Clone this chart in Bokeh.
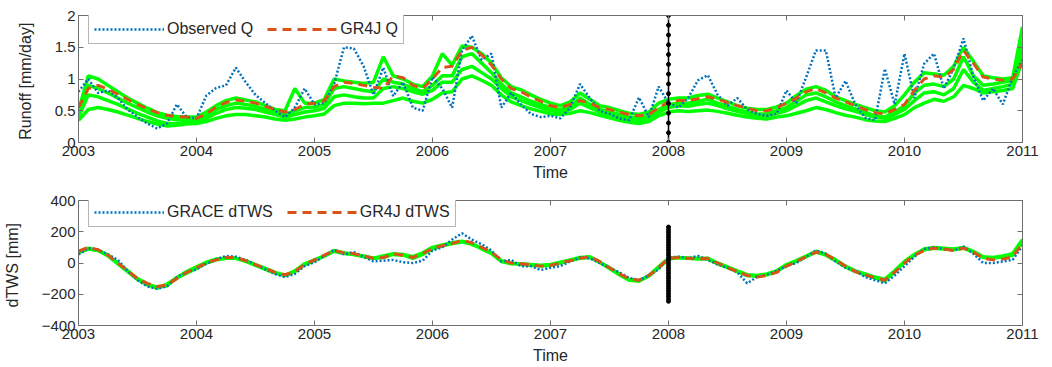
import numpy as np
from bokeh.plotting import figure
from bokeh.layouts import column
from bokeh.models import (LinearAxis, Range1d, FixedTicker, Legend, LegendItem,
                          CustomJSTickFormatter)
from bokeh.embed import file_html
from bokeh.resources import INLINE

# ---------------- data (monthly, Jan 2003 .. Jan 2011) ----------------
start_year = 2003
n_months = 97
year_ticks = [2003, 2004, 2005, 2006, 2007, 2008, 2009, 2010, 2011]
split_year = 2008

observed_q = [
    0.80, 1.00, 0.78, 0.82, 0.70, 0.52, 0.40, 0.30, 0.22, 0.30, 0.60, 0.40,
    0.38, 0.74, 0.86, 0.90, 1.18, 0.95, 0.75, 0.62, 0.50, 0.40, 0.55, 0.85,
    0.60, 0.62, 0.92, 1.50, 1.48, 1.20, 0.75, 1.18, 0.73, 0.95, 0.55, 0.50,
    1.03, 0.85, 0.55, 1.45, 1.68, 1.30, 1.40, 0.55, 0.78, 0.60, 0.45, 0.40,
    0.42, 0.38, 0.55, 0.92, 0.70, 0.50, 0.45, 0.38, 0.35, 0.71, 0.40, 0.88,
    0.62, 0.55, 0.70, 0.98, 1.06, 0.75, 0.58, 0.70, 0.52, 0.45, 0.42, 0.45,
    0.82, 0.62, 1.03, 1.45, 1.45, 0.70, 0.97, 0.60, 0.39, 0.35, 1.16, 0.60,
    1.40, 0.70, 1.24, 1.40, 0.85, 1.17, 1.64, 1.04, 0.66, 0.85, 0.60, 1.03,
    1.30]

gr4j_q = [
    0.55, 0.85, 0.90, 0.84, 0.76, 0.68, 0.60, 0.53, 0.47, 0.43, 0.41, 0.40,
    0.38, 0.45, 0.56, 0.63, 0.67, 0.65, 0.62, 0.57, 0.52, 0.48, 0.52, 0.60,
    0.62, 0.66, 0.88, 0.95, 0.93, 0.90, 0.87, 0.85, 1.05, 1.02, 0.90, 0.85,
    1.00, 1.18, 1.20, 1.45, 1.50, 1.38, 1.22, 1.00, 0.85, 0.80, 0.72, 0.65,
    0.58, 0.55, 0.60, 0.66, 0.62, 0.55, 0.52, 0.48, 0.44, 0.42, 0.44, 0.55,
    0.64, 0.66, 0.66, 0.69, 0.72, 0.68, 0.63, 0.58, 0.54, 0.50, 0.50, 0.55,
    0.62, 0.70, 0.80, 0.85, 0.78, 0.70, 0.64, 0.58, 0.52, 0.47, 0.45, 0.52,
    0.60, 0.82, 1.00, 1.05, 1.03, 1.15, 1.45, 1.25, 1.03, 1.00, 0.98, 1.00,
    1.25]

ens_q1 = [
    0.50, 1.05, 1.00, 0.90, 0.80, 0.70, 0.62, 0.54, 0.47, 0.43, 0.41, 0.40,
    0.40, 0.48, 0.58, 0.66, 0.70, 0.67, 0.64, 0.58, 0.52, 0.50, 0.85, 0.62,
    0.62, 0.68, 1.00, 0.97, 0.95, 0.93, 0.95, 1.35, 1.05, 1.00, 0.92, 0.88,
    1.05, 1.40, 1.22, 1.52, 1.50, 1.40, 1.25, 1.02, 0.88, 0.83, 0.75, 0.68,
    0.62, 0.58, 0.64, 0.78, 0.68, 0.58, 0.55, 0.50, 0.46, 0.44, 0.48, 0.62,
    0.68, 0.70, 0.70, 0.74, 0.76, 0.70, 0.64, 0.58, 0.54, 0.52, 0.52, 0.56,
    0.62, 0.74, 0.84, 0.88, 0.82, 0.72, 0.66, 0.60, 0.55, 0.50, 0.48, 0.58,
    0.75, 0.95, 1.10, 1.08, 1.06, 1.20, 1.50, 1.28, 1.05, 1.02, 1.00, 1.02,
    1.82]

ens_q2 = [
    0.45, 0.90, 0.85, 0.78, 0.70, 0.62, 0.55, 0.48, 0.42, 0.38, 0.36, 0.36,
    0.35, 0.42, 0.52, 0.58, 0.62, 0.60, 0.57, 0.52, 0.47, 0.44, 0.50, 0.55,
    0.56, 0.60, 0.85, 0.88, 0.85, 0.82, 0.80, 1.00, 0.95, 0.92, 0.85, 0.80,
    0.90, 1.05, 1.05, 1.35, 1.40, 1.25, 1.10, 0.92, 0.78, 0.72, 0.65, 0.60,
    0.55, 0.52, 0.56, 0.70, 0.60, 0.52, 0.48, 0.44, 0.40, 0.38, 0.42, 0.52,
    0.60, 0.62, 0.62, 0.65, 0.68, 0.62, 0.57, 0.52, 0.48, 0.45, 0.45, 0.50,
    0.55, 0.65, 0.75, 0.78, 0.72, 0.64, 0.58, 0.53, 0.48, 0.42, 0.40, 0.48,
    0.58, 0.78, 0.90, 0.92, 0.88, 1.00, 1.35, 1.05, 0.90, 0.92, 0.95, 0.98,
    1.60]

ens_q3 = [
    0.40, 0.75, 0.72, 0.66, 0.60, 0.53, 0.46, 0.40, 0.34, 0.30, 0.30, 0.32,
    0.32, 0.38, 0.46, 0.52, 0.55, 0.54, 0.52, 0.48, 0.44, 0.40, 0.44, 0.48,
    0.50, 0.54, 0.72, 0.75, 0.72, 0.70, 0.70, 0.85, 0.88, 0.85, 0.80, 0.76,
    0.82, 0.95, 0.95, 1.15, 1.20, 1.10, 1.00, 0.85, 0.72, 0.66, 0.60, 0.55,
    0.50, 0.48, 0.52, 0.62, 0.55, 0.48, 0.44, 0.40, 0.36, 0.34, 0.38, 0.48,
    0.55, 0.58, 0.57, 0.60, 0.62, 0.58, 0.53, 0.49, 0.45, 0.42, 0.42, 0.46,
    0.50, 0.58, 0.66, 0.70, 0.64, 0.58, 0.53, 0.49, 0.44, 0.40, 0.38, 0.44,
    0.52, 0.66, 0.78, 0.80, 0.75, 0.85, 1.15, 0.95, 0.82, 0.85, 0.88, 0.92,
    1.45]

ens_q4 = [
    0.35, 0.52, 0.55, 0.52, 0.48, 0.43, 0.38, 0.33, 0.29, 0.26, 0.27, 0.29,
    0.30, 0.33, 0.38, 0.42, 0.44, 0.44, 0.42, 0.40, 0.37, 0.35, 0.37, 0.40,
    0.42, 0.45, 0.58, 0.62, 0.62, 0.61, 0.62, 0.62, 0.66, 0.70, 0.65, 0.62,
    0.68, 0.78, 0.80, 1.00, 1.05, 0.98, 0.90, 0.75, 0.64, 0.58, 0.53, 0.49,
    0.45, 0.44, 0.46, 0.50, 0.47, 0.43, 0.39, 0.35, 0.32, 0.30, 0.33, 0.42,
    0.48, 0.50, 0.49, 0.50, 0.51, 0.49, 0.46, 0.43, 0.40, 0.38, 0.37, 0.40,
    0.42, 0.46, 0.50, 0.55, 0.52, 0.47, 0.43, 0.40, 0.36, 0.34, 0.33, 0.38,
    0.44, 0.55, 0.62, 0.68, 0.65, 0.72, 0.90, 0.85, 0.78, 0.80, 0.82, 0.85,
    1.30]

grace_dtws = [
    55, 95, 85, 55, 20, -50, -110, -150, -165, -150, -90, -60,
    -40, -5, 25, 45, 40, 20, -10, -40, -70, -90, -70, -20,
    5, 45, 85, 55, 70, 40, 10, 15, 20, 5, 0, 15,
    80, 100, 150, 190, 150, 120, 80, 10, 20, -20, -20, -45,
    -30, -20, 10, 35, 30, 0, -30, -60, -95, -110, -80, -40,
    35, 40, 30, 45, 20, -10, -30, -60, -130, -90, -75, -50,
    -20, 0, 40, 80, 60, 10, -30, -50, -90, -110, -130, -80,
    -20, 40, 90, 100, 90, 80, 105, 60, 0, 0, 10, 20,
    110]

gr4j_dtws = [
    75, 100, 85, 50, 0, -50, -100, -130, -150, -140, -100, -60,
    -30, 0, 20, 35, 35, 15, -10, -35, -60, -75, -55, -10,
    20, 50, 80, 65, 60, 45, 30, 35, 60, 50, 35, 60,
    95, 110, 125, 145, 130, 100, 70, 20, 0, -5, -10, -20,
    -15, 0, 15, 30, 40, 10, -30, -70, -100, -110, -80, -30,
    30, 35, 30, 25, 30, 0, -30, -55, -80, -90, -80, -60,
    -20, 10, 40, 70, 55, 20, -20, -55, -75, -95, -110, -60,
    0, 50, 80, 95, 90, 80, 95, 70, 30, 20, 25, 40,
    125]

ens_dtws1 = [
    70, 95, 80, 45, -5, -55, -105, -140, -160, -135, -95, -55,
    -25, 5, 25, 30, 30, 10, -15, -40, -65, -80, -50, -5,
    20, 45, 75, 60, 55, 40, 30, 45, 60, 55, 40, 65,
    100, 115, 130, 140, 125, 90, 60, 10, -5, -5, -10, -15,
    -10, 5, 20, 35, 40, 5, -35, -75, -110, -115, -80, -25,
    30, 35, 30, 30, 30, 0, -25, -50, -75, -80, -70, -50,
    -10, 15, 45, 75, 55, 20, -20, -50, -70, -90, -105, -50,
    10, 55, 90, 100, 95, 90, 100, 75, 40, 35, 45, 60,
    150]

ens_dtws2 = [
    65, 90, 80, 50, 0, -50, -100, -135, -155, -145, -95, -65,
    -35, 0, 20, 30, 30, 15, -10, -35, -60, -80, -55, -10,
    15, 45, 80, 65, 55, 45, 30, 35, 55, 50, 30, 55,
    90, 110, 125, 135, 120, 95, 65, 15, 0, -10, -15, -20,
    -15, 0, 15, 30, 35, 5, -30, -70, -105, -115, -85, -30,
    25, 35, 30, 25, 25, -5, -30, -55, -80, -85, -75, -55,
    -15, 10, 40, 70, 50, 15, -25, -55, -75, -95, -115, -55,
    5, 50, 85, 95, 90, 85, 95, 70, 35, 30, 40, 50,
    140]

# ---------------- style ----------------
FONT = "Liberation Sans"
TXT = "#262626"
AX = "#6e6e6e"
BLUE = "#0072BD"
ORANGE = "#D95319"
GREEN = "#00FF00"

t = [start_year + i / 12.0 for i in range(n_months)]


def style(p, ylabel, yticks):
    p.xaxis.ticker = FixedTicker(ticks=year_ticks)
    p.xaxis.formatter = CustomJSTickFormatter(code="return tick.toFixed(0);")
    p.yaxis.ticker = FixedTicker(ticks=yticks)
    p.xaxis.axis_label = "Time"
    p.yaxis.axis_label = ylabel
    for ax in (p.xaxis[0], p.yaxis[0]):
        ax.axis_line_color = AX
        ax.major_tick_line_color = AX
        ax.major_tick_in = 5
        ax.major_tick_out = 0
        ax.minor_tick_line_color = None
        ax.major_label_text_font = FONT
        ax.major_label_text_font_size = "15px"
        ax.major_label_text_color = TXT
        ax.axis_label_text_font = FONT
        ax.axis_label_text_font_size = "16px"
        ax.axis_label_text_font_style = "normal"
        ax.axis_label_text_color = TXT
        ax.major_label_standoff = 3
    p.xaxis.axis_label_standoff = 5
    p.yaxis.axis_label_standoff = 18
    for loc, tk in (("above", year_ticks), ("right", yticks)):
        a = LinearAxis(ticker=FixedTicker(ticks=tk))
        a.major_label_text_font_size = "0px"
        a.major_label_text_color = None
        a.major_label_standoff = 0
        a.axis_line_color = AX
        a.major_tick_line_color = AX
        a.major_tick_in = 5
        a.major_tick_out = 0
        a.minor_tick_line_color = None
        p.add_layout(a, loc)
    p.grid.visible = False
    p.outline_line_color = AX
    p.background_fill_color = "white"
    p.border_fill_color = "white"


def panel(height, top_border, bottom_border, yr, ylabel, yticks,
          obs, sim, ens, obs_label, sim_label, split_lo, split_hi, n_dots):
    p = figure(width=1044, height=height, output_backend="svg",
               toolbar_location=None, x_range=Range1d(2003, 2011),
               y_range=Range1d(*yr), min_border_left=78, min_border_right=22,
               min_border_top=top_border, min_border_bottom=bottom_border)
    for e in ens:
        p.line(t, e, line_color=GREEN, line_width=3.5)
    r_obs = p.line(t, obs, line_color=BLUE, line_width=2.5, line_dash="2 2")
    r_sim = p.line(t, sim, line_color=ORANGE, line_width=3, line_dash="9 6")
    # split marker line at 2008
    p.line([split_year, split_year], [split_lo, split_hi], line_color="black", line_width=1.5)
    ys = np.linspace(split_lo, split_hi, n_dots)
    p.scatter([split_year] * n_dots, ys, size=4, color="black")
    style(p, ylabel, yticks)
    leg = Legend(items=[LegendItem(label=obs_label, renderers=[r_obs]),
                        LegendItem(label=sim_label, renderers=[r_sim])],
                 location=(10, 98), orientation="horizontal")
    leg.label_text_font = FONT
    leg.label_text_font_size = "16px"
    leg.label_text_color = TXT
    leg.glyph_width = 70
    leg.glyph_height = 16
    leg.label_height = 16
    leg.label_standoff = 3
    leg.spacing = 14
    leg.padding = 5
    leg.margin = 0
    leg.border_line_color = AX
    leg.border_line_width = 1
    leg.background_fill_alpha = 1
    p.add_layout(leg)
    return p


p1 = panel(192, 15, 50, (0, 2), "Runoff  [mm/day]", [0, 0.5, 1, 1.5, 2],
           observed_q, gr4j_q, [ens_q4, ens_q3, ens_q2, ens_q1],
           "Observed Q", "GR4J Q", 0, 2, 14)
p2 = panel(174, 8, 39, (-400, 400), "dTWS  [mm]", [-400, -200, 0, 200, 400],
           grace_dtws, gr4j_dtws, [ens_dtws2, ens_dtws1],
           "GRACE dTWS", "GR4J dTWS", -245, 230, 30)

layout = column(p1, p2, spacing=0)
open("out.html", "w").write(file_html(layout, INLINE))
